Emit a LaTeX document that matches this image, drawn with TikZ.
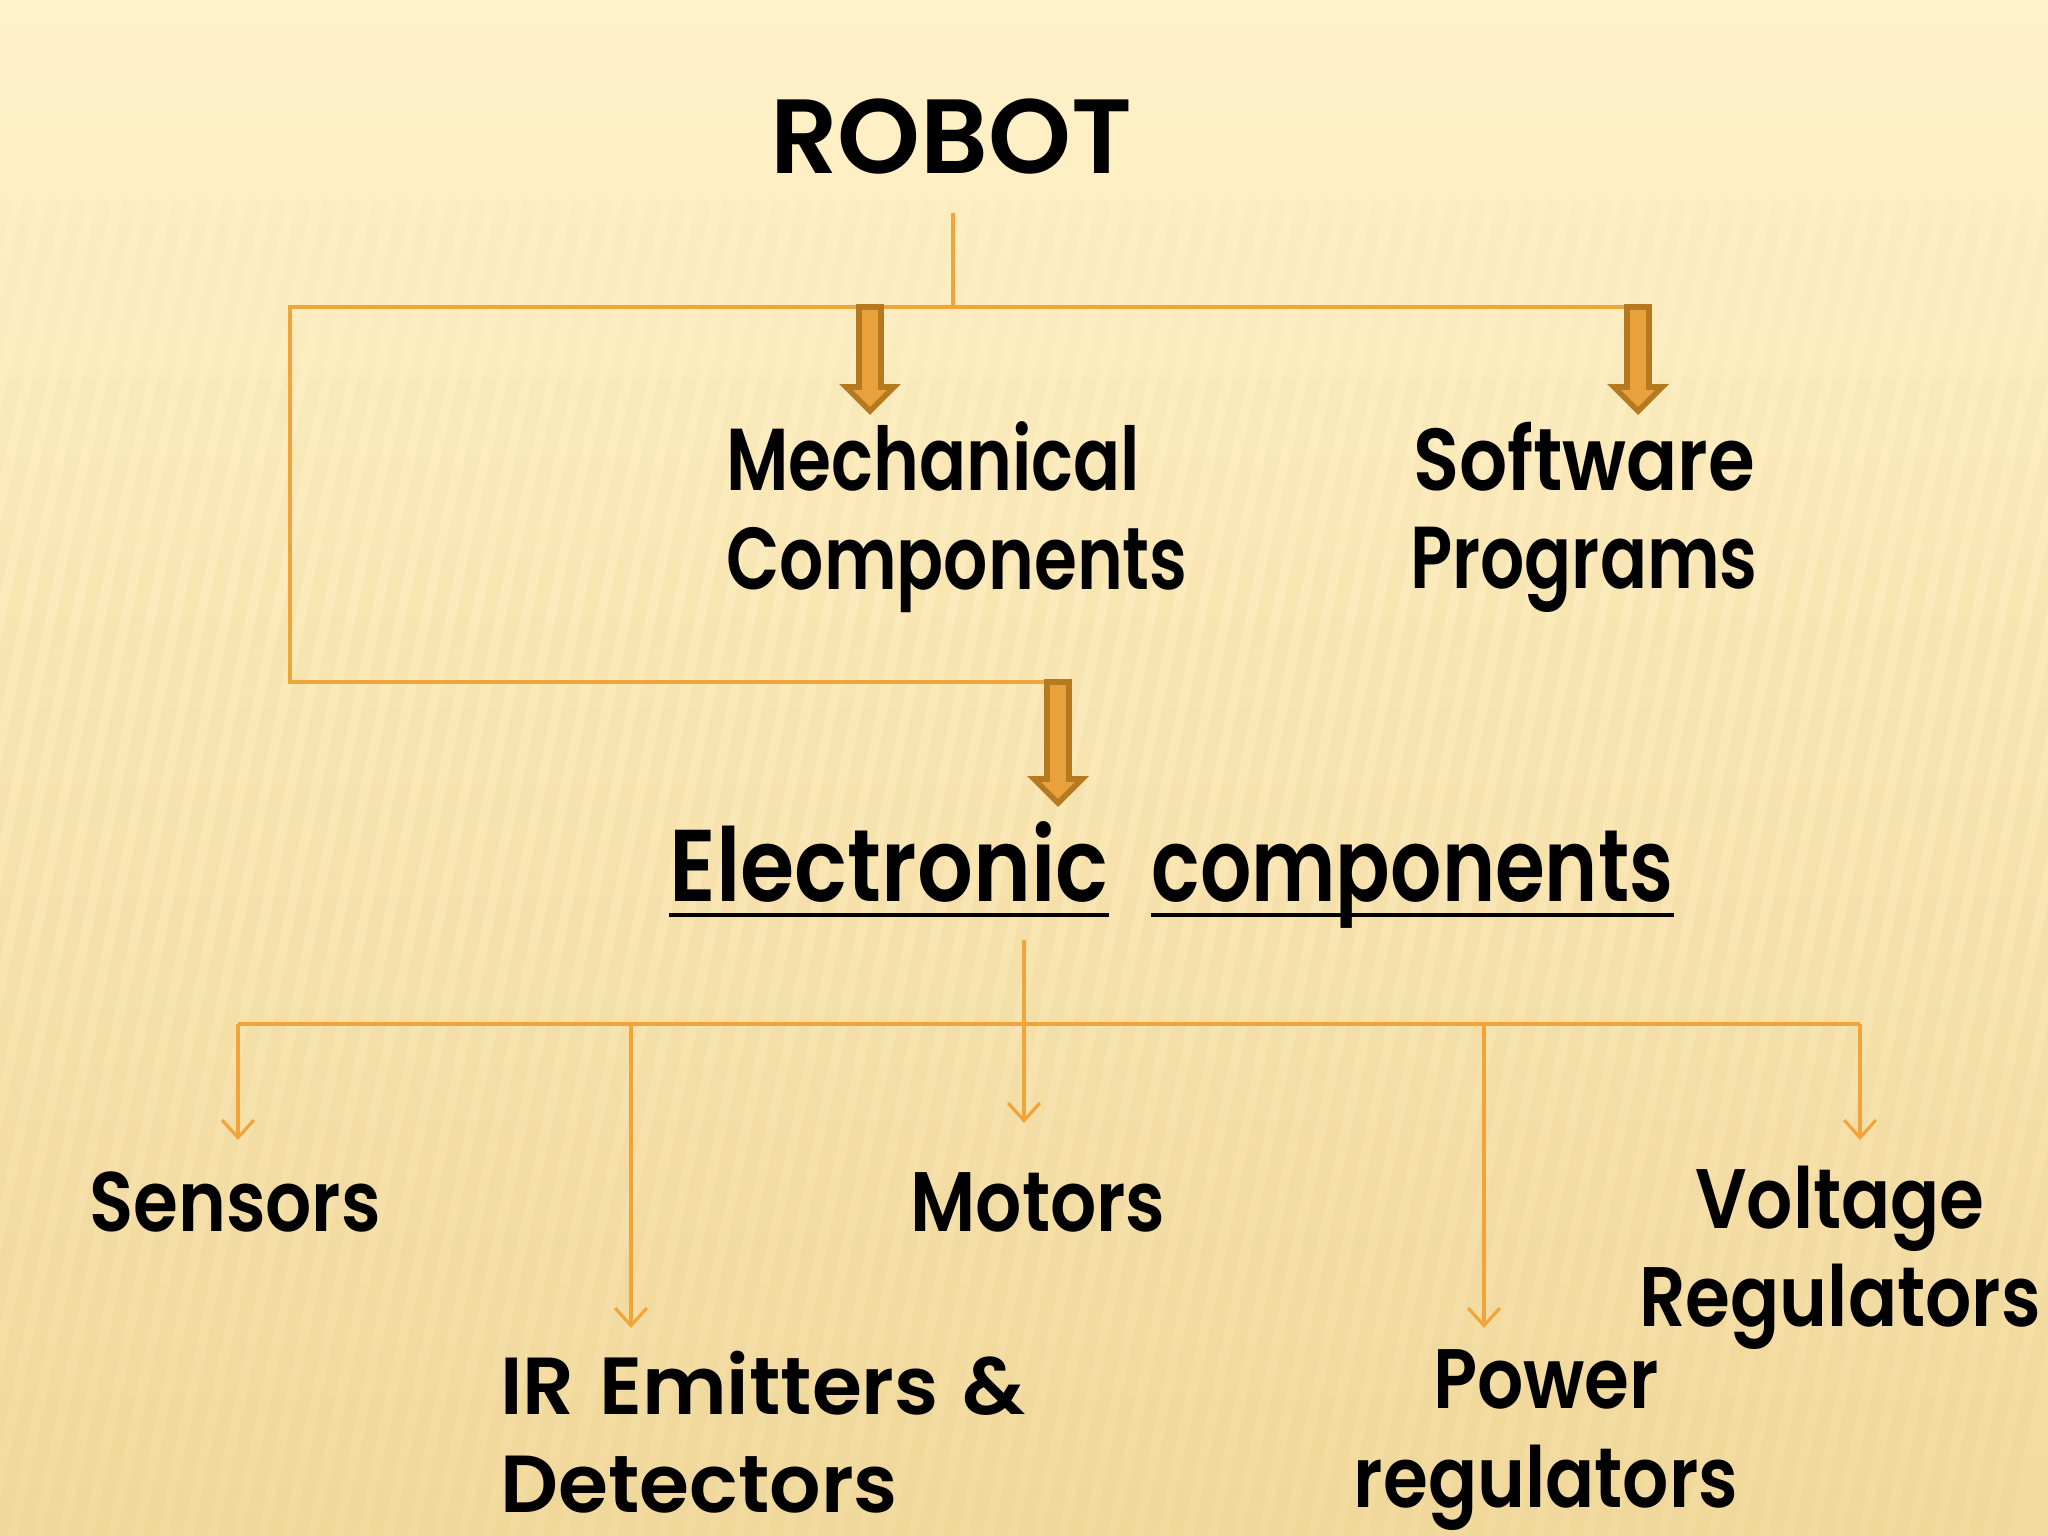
\documentclass[tikz,border=0pt]{standalone}
\usepackage{fontspec}
\setmainfont{Poppins}[UprightFont={* SemiBold}]
\newfontfamily\narrowfont{Poppins}[UprightFont={* SemiBold}, FakeStretch=0.86]
\newfontfamily\tightfont{Poppins}[UprightFont={* SemiBold}, FakeStretch=0.79]
\usetikzlibrary{arrows.meta,calc,positioning}

\definecolor{linecol}{HTML}{F0A43A}
\definecolor{fatfill}{HTML}{E9A23B}
\definecolor{fatedge}{HTML}{B5791F}
\definecolor{bgtop}{HTML}{FFF1C8}
\definecolor{bgbot}{HTML}{F2DA9E}
\definecolor{stripecol}{HTML}{E8CC88}

\tikzset{
  branch/.style={draw=linecol, line width=0.9pt},
  thinarrow/.style={branch, -{Straight Barb[length=5pt,width=9pt]}},
  fatarrow/.style={fill=fatfill, draw=fatedge, line width=1.6pt, line join=miter},
  title/.style={font=\fontsize{30}{34}\selectfont},
  part/.style={font=\narrowfont\fontsize{25}{28}\selectfont},
  leaf/.style={font=\narrowfont\fontsize{24}{28}\selectfont},
  headword/.style={font=\narrowfont\fontsize{29}{32}\selectfont, inner sep=0pt, anchor=base west},
  uline/.style={line width=1.3pt},
  stripe/.style={stripecol, line width=4pt}
}

% thick block arrow, from #1 straight down to the tip #2
\newcommand\fatdown[2]{%
  \draw[fatarrow] ($(#1)+(-11,0)$) -- ($(#2)+(-11,-24)$) -- ($(#2)+(-24,-24)$)
    -- (#2) -- ($(#2)+(24,-24)$) -- ($(#2)+(11,-24)$) -- ($(#1)+(11,0)$) -- cycle;}

\begin{document}
\begin{tikzpicture}[x=0.01cm,y=-0.01cm]
  \useasboundingbox (0,0) rectangle (2048,1536);
  % background
  \shade[top color=bgtop, bottom color=bgbot, middle color=bgtop!60!bgbot]
    (0,0) rectangle (2048,1536);
  \begin{scope}
    \clip (0,0) rectangle (2048,1536);
    \foreach \s in {-600,-575,...,2000} {
      \draw[stripe, opacity=0.05] (\s+240,380) -- (\s+280,200);
      \draw[stripe, opacity=0.10] (\s+200,560) -- (\s+240,380);
      \draw[stripe, opacity=0.16] (\s,1536) -- (\s+200,560);
    }
  \end{scope}

  % texts
  \node[title] (robot) at (951,137) {ROBOT};
  \node[part, align=left, anchor=west] (mech) at (714,517)
    {{\tightfont Mechanical}\\{\tightfont Components}};
  \node[part, align=center] (soft) at (1584,517) {Software\\{\tightfont Programs}};
  \node[headword] (elecA) at (669,901) {Electronic};
  \node[headword, right=42 of elecA.base east, anchor=base west] (elecB) {\tightfont components};
  \draw[uline] ($(elecA.base west)+(0,14)$) -- ($(elecA.base east)+(0,14)$);
  \draw[uline] ($(elecB.base west)+(0,14)$) -- ($(elecB.base east)+(0,14)$);

  \node[leaf] (sens) at (235,1202) {Sensors};
  \node[leaf] (mot) at (1038,1202) {Motors};
  \node[leaf, align=center] (volt) at (1840,1258) {Voltage\\Regulators};
  \node[leaf, font=\fontsize{23}{28}\selectfont, align=left, anchor=west] (ir) at (488,1432)
    {IR\hspace{0.3em}Emitters\hspace{0.3em}\&\\Detectors};
  \node[leaf, align=center] (pow) at (1546,1440) {Power\\regulators};

  % upper tree
  \coordinate (rtop) at (953,213);
  \coordinate (rbus) at (953,307);
  \coordinate (busR) at (1652,307);
  \coordinate (busL) at (290,682);
  \coordinate (elecIn) at (1058,682);
  \draw[branch] (rtop) -- (rbus);
  \draw[branch] (busR) -| (busL) -- (elecIn);

  \coordinate (mechIn) at (870,307);
  \coordinate (softIn) at (1638,307);
  \fatdown{mechIn}{870,411}
  \fatdown{softIn}{1638,411}
  \fatdown{elecIn}{1058,803}

  % lower tree
  \coordinate (etop) at (1024,940);
  \coordinate (ebusL) at (238,1024);
  \coordinate (ebusR) at (1860,1024);
  \draw[branch] (ebusL) -- (ebusR);
  \coordinate (sensTip) at (238,1140);
  \coordinate (irTip) at (631,1328);
  \coordinate (motTip) at (1024,1123);
  \coordinate (powTip) at (1484,1328);
  \coordinate (voltTip) at (1860,1140);
  \draw[thinarrow] (etop) -- (motTip);
  \foreach \t in {sensTip,irTip,powTip,voltTip}
    \draw[thinarrow] (\t |- ebusL) -- (\t);
\end{tikzpicture}
\end{document}
